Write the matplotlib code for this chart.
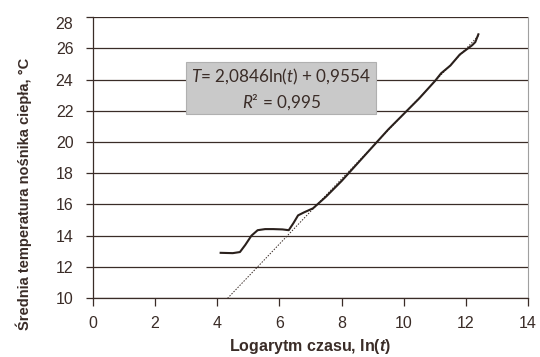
import matplotlib.pyplot as plt
import numpy as np
from matplotlib.patches import Rectangle

plt.rcParams['font.family'] = ['Liberation Sans', 'DejaVu Sans']
plt.rcParams['mathtext.fontset'] = 'custom'
plt.rcParams['mathtext.rm'] = 'Lato'
plt.rcParams['mathtext.it'] = 'Lato:italic'
plt.rcParams['mathtext.bfit'] = 'Liberation Sans:italic:bold'

# measured curve: ln(t) vs mean fluid temperature
ln_t = [4.11, 4.5, 4.73, 4.9, 5.1, 5.3, 5.54, 5.8, 6.1, 6.3, 6.45, 6.6, 6.8, 7.08,
        7.5, 8.0, 8.5, 9.0, 9.5, 10.0, 10.5, 11.0, 11.2, 11.5, 11.8, 12.0, 12.2, 12.3, 12.4]
temp = [12.9, 12.88, 12.95, 13.4, 14.0, 14.35, 14.42, 14.42, 14.4, 14.35, 14.8, 15.3, 15.5, 15.75,
        16.5, 17.5, 18.6, 19.7, 20.8, 21.8, 22.8, 23.9, 24.4, 24.9, 25.6, 25.9, 26.2, 26.4, 26.9]

# linear fit T = a*ln(t) + b
a, b = 2.0846, 0.9554
fit_range = [4.33, 12.4]

dark = '#3a2c27'

fig = plt.figure(figsize=(5.4, 3.57), dpi=100)
ax = fig.add_axes([0.172, 0.165, 0.806, 0.787])

ax.set_xlim(0, 14)
ax.set_ylim(10, 28)
ax.set_xticks(range(0, 15, 2))
ax.set_yticks(range(10, 29, 2))
ax.grid(axis='y', color=dark, lw=0.9)
ax.set_axisbelow(True)

for s in ['left', 'bottom']:
    ax.spines[s].set_color(dark)
    ax.spines[s].set_linewidth(0.9)
ax.spines['top'].set_visible(False)
ax.spines['right'].set_color('#a0a0a0')
ax.spines['right'].set_linewidth(0.8)
ax.tick_params(colors=dark, labelsize=11.5, length=5, width=0.9)
ax.tick_params(axis='y', pad=9)
ax.tick_params(axis='x', pad=7, length=6)
# top label sits below its gridline in the original
ax.get_yticklabels()[-1].set_va('top')

# fit line
xf = np.array(fit_range)
ax.plot(xf, a * xf + b, color=dark, lw=0.7, linestyle=(0, (1.5, 1.5)))

# measurement
ax.plot(ln_t, temp, color='#2a201c', lw=1.5)

# equation box
ax.add_patch(Rectangle((2.99, 21.79), 6.12, 3.33, facecolor='#c9c9c9',
                       edgecolor='#b0b0b0', lw=0.8, zorder=3))
ax.text(6.05, 24.15, r'$\mathit{T}$= 2,0846ln($\mathit{t}$) + 0,9554', ha='center', va='center',
        fontsize=12.3, color=dark, family='Lato', zorder=4)
ax.text(6.05, 22.55, r'$\mathit{R}$² = 0,995', ha='center', va='center',
        fontsize=12.3, color=dark, family='Lato', zorder=4)

ax.set_xlabel(r'Logarytm czasu, ln($\mathbfit{t}$)', fontsize=11.5, fontweight='bold',
              color=dark, labelpad=4)
ax.set_ylabel('Średnia temperatura nośnika ciepła, °C', fontsize=10.5, fontweight='bold', color=dark)
ax.yaxis.set_label_coords(-0.14, 0.37)

fig.savefig('out.png', dpi=100)
